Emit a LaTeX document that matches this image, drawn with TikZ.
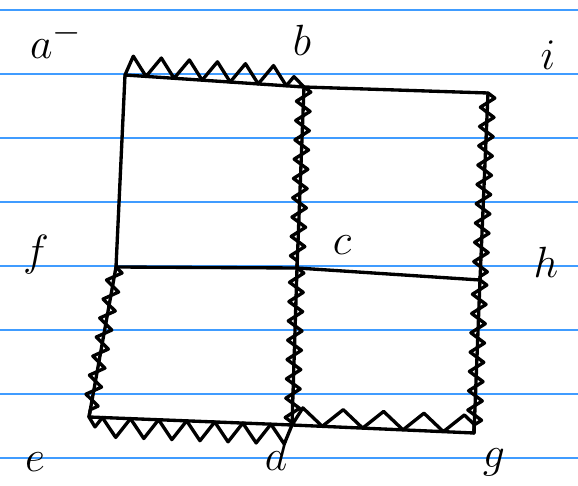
\documentclass[tikz,border=0pt]{standalone}
\usetikzlibrary{decorations.pathmorphing}
\definecolor{rule}{RGB}{64,156,255}
\tikzset{
  pen/.style={line width=1.9pt, line cap=round, line join=round},
  spring/.style={pen, decorate, decoration={zigzag, amplitude=4pt, segment length=11pt}},
  hump/.style={pen, decorate, decoration={zigzag, amplitude=5.5pt, segment length=16pt, raise=5.5pt}},
  wide hump/.style={pen, decorate, decoration={zigzag, amplitude=5pt, segment length=23pt, raise=5pt}},
  tag/.style={font=\fontsize{30}{32}\selectfont}
}
\begin{document}
\begin{tikzpicture}[x=0.02cm, y=-0.02cm]
  \useasboundingbox (0,0) rectangle (578,486);
  \fill[white] (0,0) rectangle (578,486);
  % ruled paper
  \foreach \y in {10,74,138,202,266,330,394,458}
    \draw[rule, line width=0.9pt] (0,\y) -- (578,\y);

  % corners
  \coordinate (a) at (125,75);
  \coordinate (b) at (304,87);
  \coordinate (i) at (488,93);
  \coordinate (f) at (116,267);
  \coordinate (c) at (297,268);
  \coordinate (h) at (480,280);
  \coordinate (e) at (89,417);
  \coordinate (d) at (292,425);
  \coordinate (g) at (474,433);

  % labels
  \node[tag] (la) at (56,40) {$a^{-}$};
  \node[tag] (lb) at (302,40) {$b$};
  \node[tag] (li) at (548,55) {$i$};
  \node[tag] (lf) at (36,255) {$f$};
  \node[tag] (lc) at (342,245) {$c$};
  \node[tag] (lh) at (546,262) {$h$};
  \node[tag] (le) at (35,462) {$e$};
  \node[tag] (ld) at (276,455) {$d$};
  \node[tag] (lg) at (494,462) {$g$};

  % plain edges
  \draw[pen] (a) -- (b) -- (i);
  \draw[pen] (a) -- (f) -- (c) -- (h);
  \draw[pen] (e) -- (d) -- (g);
  \draw[pen] (b) -- (c) -- (d);
  \draw[pen] (i) -- (h) -- (g);
  \draw[pen] (f) -- (e);

  % springs
  \draw[hump] (a) -- (b);
  \draw[wide hump] (d) -- (g);
  \draw[hump] (d) -- (e);
  \draw[spring] (b) -- (c);
  \draw[spring] (c) -- (d);
  \draw[spring] (i) -- (h);
  \draw[spring] (h) -- (g);
  \draw[spring] (f) -- (e);
\end{tikzpicture}
\end{document}
